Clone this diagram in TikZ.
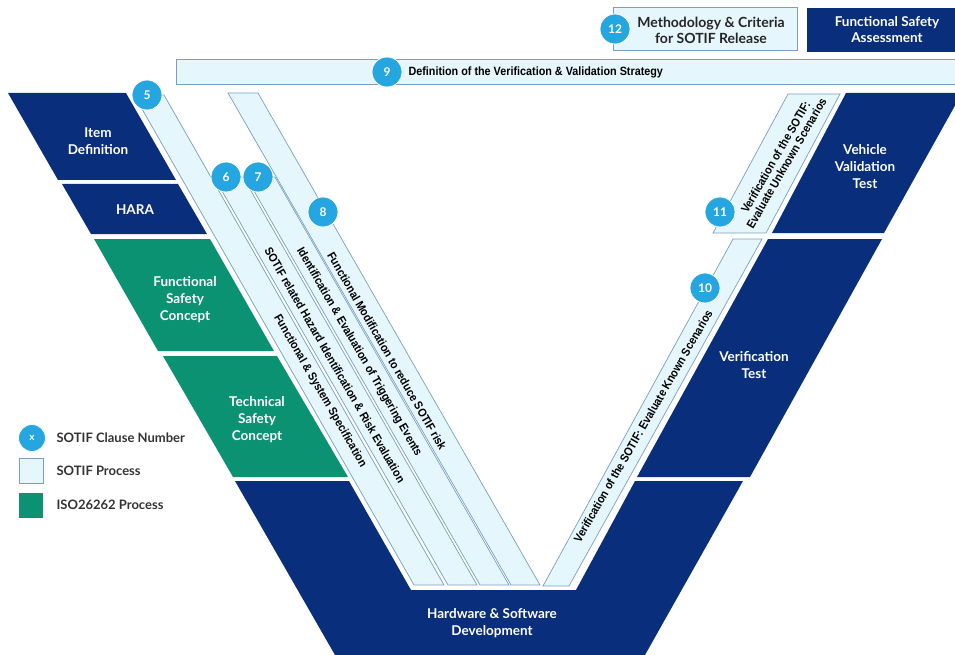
\documentclass[tikz,border=0pt]{standalone}
\usepackage{fontspec}
\setmainfont{Lato}
\newfontfamily\stripefont[FakeStretch=0.9]{Liberation Sans}
\definecolor{vnavy}{RGB}{8,46,124}
\definecolor{vgreen}{RGB}{10,146,115}
\definecolor{vlight}{RGB}{230,246,253}
\definecolor{vedge}{RGB}{120,160,192}
\definecolor{vclause}{RGB}{38,166,224}
\tikzset{
	sotif/.style={fill=vlight, draw=vedge, line width=0.7pt},
	clause/.style={circle, fill=vclause, draw=white, line width=0.8pt, minimum size=30pt, inner sep=0pt, text=white, font=\bfseries\fontsize{12}{12}\selectfont},
	blocktext/.style={text=white, align=center, font=\bfseries\fontsize{13.5}{17}\selectfont},
	stripetext/.style={text=black, align=center, font=\stripefont\bfseries\fontsize{11.8}{12.5}\selectfont},
	legendtext/.style={anchor=west, text=black!80, font=\bfseries\fontsize{13}{14}\selectfont}
}

\begin{document}
\begin{tikzpicture}[x=1pt,y=-1pt]
	%%%%% START %%%%%
	\useasboundingbox (0,0) rectangle (955,655);

	% left leg of the V
	\fill[vnavy] (8,93) -- (126,93) -- (176,180) -- (58,180) -- cycle;
	\fill[vnavy] (62,184) -- (178,184) -- (207,234) -- (91,234) -- cycle;
	\fill[vgreen] (94,239) -- (210,239) -- (274,351) -- (158,351) -- cycle;
	\fill[vgreen] (163,356) -- (277,356) -- (348,477) -- (233,477) -- cycle;

	% bottom of the V
	\fill[vnavy] (235,481) -- (349,481) -- (411,590) -- (576,590) -- (635,481) -- (743,481) -- (645,655) -- (335,655) -- cycle;

	% right leg of the V
	\fill[vnavy] (637,477) -- (750,477) -- (882,239) -- (768,239) -- cycle;
	\fill[vnavy] (772,233) -- (884,233) -- (962,93) -- (846,93) -- cycle;

	% top boxes
	\draw[sotif] (176,59) rectangle (962,84);
	\draw[sotif] (613,7) rectangle (797,50);
	\fill[vnavy] (807,8) rectangle (962,52);

	% SOTIF stripes
	\draw[sotif] (134,95) -- (164,95) -- (444,585) -- (414,585) -- cycle;
	\draw[sotif] (214,177) -- (243,177) -- (477,585) -- (448,585) -- cycle;
	\draw[sotif] (246,177) -- (275,177) -- (509,585) -- (480,585) -- cycle;
	\draw[sotif] (228,93) -- (258,93) -- (540,585) -- (511,585) -- cycle;
	\draw[sotif] (543,586) -- (569,586) -- (762,239) -- (733,239) -- cycle;
	\draw[sotif] (713,233) -- (766,233) -- (840,94) -- (788,94) -- cycle;

	% texts of the blocks
	\node[blocktext] (itemdef) at (98,141) {Item\\Definition};
	\node[blocktext] (hara) at (135,210) {HARA};
	\node[blocktext] (fsc) at (185,300) {Functional\\Safety\\Concept};
	\node[blocktext] (tsc) at (257,420) {Technical\\Safety\\Concept};
	\node[blocktext] (hwsw) at (492,623) {Hardware \& Software\\Development};
	\node[blocktext] (vertest) at (754,365) {Verification\\Test};
	\node[blocktext] (valtest) at (865,167) {Vehicle\\Validation\\Test};
	\node[blocktext, font=\bfseries\fontsize{13.5}{16}\selectfont] (fsa) at (887,30) {Functional Safety\\Assessment};
	\node[blocktext, text=black!85, font=\bfseries\fontsize{14}{16}\selectfont] (release) at (711,30) {Methodology \& Criteria\\for SOTIF Release};

	% texts of the stripes
	\node[stripetext, rotate=-60] (spec) at (320,391) {Functional \& System Specification};
	\node[stripetext, rotate=-60] (hazard) at (335,365) {SOTIF related Hazard Identification \& Risk Evaluation};
	\node[stripetext, rotate=-60] (trigger) at (359,352) {Identification \& Evaluation of Triggering Events};
	\node[stripetext, rotate=-60] (modif) at (387,351) {Functional Modification to reduce SOTIF risk};
	\node[stripetext, rotate=60] (known) at (643,426) {Verification of the SOTIF: Evaluate Known Scenarios};
	\node[stripetext, rotate=60] (unknown) at (781,160) {Verification of the SOTIF:\\Evaluate Unknown Scenarios};
	\node[stripetext, anchor=west, font=\stripefont\bfseries\fontsize{12}{12}\selectfont] (strategy) at (405,72) {Definition of the Verification \& Validation Strategy};

	% clause numbers
	\node[clause] (c5) at (147,95) {5};
	\node[clause] (c6) at (226,177) {6};
	\node[clause] (c7) at (258,177) {7};
	\node[clause] (c8) at (323,212) {8};
	\node[clause] (c9) at (387,72) {9};
	\node[clause] (c10) at (705,288) {10};
	\node[clause] (c11) at (720,212) {11};
	\node[clause] (c12) at (615,29) {12};

	% legend
	\node[clause, minimum size=27pt, font=\bfseries\fontsize{10}{10}\selectfont] (lclause) at (32,438) {x};
	\draw[sotif] (19,458) rectangle (43,483);
	\fill[vgreen] (19,493) rectangle (43,518);
	\node[legendtext] (lclausetext) at (53,438) {SOTIF Clause Number};
	\node[legendtext] (lsotif) at (53,471) {SOTIF Process};
	\node[legendtext] (liso) at (53,505) {ISO26262 Process};

	%%%%% END %%%%%
\end{tikzpicture}
\end{document}
